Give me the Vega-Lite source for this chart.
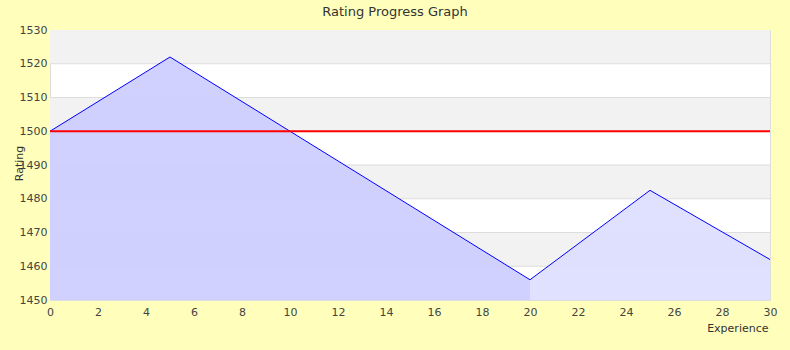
{
  "$schema": "https://vega.github.io/schema/vega-lite/v6.json",
  "width": 720,
  "height": 270,
  "autosize": {"type": "none"},
  "padding": {"left": 50, "top": 30, "right": 20, "bottom": 50},
  "background": "#FFFFBB",
  "title": {"text": "Rating Progress Graph", "fontSize": 13, "font": "DejaVu Sans", "fontWeight": "normal", "color": "#333333", "offset": 5, "dx": -15},
  "config": {
    "font": "DejaVu Sans",
    "view": {"fill": "#FFFFFF", "stroke": "#DDDDDD"},
    "axis": {"labelFont": "DejaVu Sans", "labelFontSize": 11, "labelColor": "#444444", "titleFont": "DejaVu Sans", "titleFontSize": 11, "titleFontWeight": "normal", "titleColor": "#333333", "ticks": false, "domain": false, "grid": false}
  },
  "datasets": {
    "bands": [
      {"lo": 1520, "hi": 1530},
      {"lo": 1500, "hi": 1510},
      {"lo": 1480, "hi": 1490},
      {"lo": 1460, "hi": 1470}
    ],
    "gridlines": [
      {"rating": 1460}, {"rating": 1470}, {"rating": 1480}, {"rating": 1490},
      {"rating": 1500}, {"rating": 1510}, {"rating": 1520}
    ],
    "areas": [
      {"exp": 0, "rating": 1500, "seg": "a"},
      {"exp": 5, "rating": 1522, "seg": "a"},
      {"exp": 20, "rating": 1456, "seg": "a"},
      {"exp": 20, "rating": 1456, "seg": "b"},
      {"exp": 25, "rating": 1482.5, "seg": "b"},
      {"exp": 30, "rating": 1462, "seg": "b"}
    ],
    "points": [
      {"exp": 0, "rating": 1500},
      {"exp": 5, "rating": 1522},
      {"exp": 20, "rating": 1456},
      {"exp": 25, "rating": 1482.5},
      {"exp": 30, "rating": 1462}
    ],
    "ref": [{"rating": 1500}]
  },
  "layer": [
    {
      "data": {"name": "bands"},
      "mark": {"type": "rect", "fill": "#F2F2F2"},
      "encoding": {
        "y": {"field": "lo", "type": "quantitative", "scale": {"domain": [1450, 1530], "zero": false, "nice": false},
          "axis": {"title": "Rating", "format": "d", "values": [1450, 1460, 1470, 1480, 1490, 1500, 1510, 1520, 1530], "tickCount": 12, "labelOverlap": false, "labelFlush": false, "labelPadding": 3, "titleX": -31, "titleY": 133, "titleAngle": 270, "titleAlign": "center", "titleBaseline": "middle"}},
        "y2": {"field": "hi"}
      }
    },
    {
      "data": {"name": "gridlines"},
      "mark": {"type": "rule", "color": "#DDDDDD", "strokeWidth": 1},
      "encoding": {
        "y": {"field": "rating", "type": "quantitative"}
      }
    },
    {
      "data": {"name": "areas"},
      "mark": {"type": "area", "opacity": 0.93},
      "encoding": {
        "x": {"field": "exp", "type": "quantitative", "scale": {"domain": [0, 30], "nice": false},
          "axis": {"title": "Experience", "values": [0, 2, 4, 6, 8, 10, 12, 14, 16, 18, 20, 22, 24, 26, 28, 30], "tickCount": 20, "labelOverlap": false, "labelFlush": false, "labelPadding": 6, "titleAnchor": "end", "titleAlign": "right", "titleX": 718, "titleY": 28, "titleBaseline": "middle"}},
        "y": {"field": "rating", "type": "quantitative"},
        "y2": {"datum": 1450},
        "color": {"field": "seg", "type": "nominal", "scale": {"domain": ["a", "b"], "range": ["#CDCDFF", "#DEDEFF"]}, "legend": null}
      }
    },
    {
      "data": {"name": "points"},
      "mark": {"type": "line", "color": "#0000FF", "strokeWidth": 1},
      "encoding": {
        "x": {"field": "exp", "type": "quantitative"},
        "y": {"field": "rating", "type": "quantitative"}
      }
    },
    {
      "data": {"name": "ref"},
      "mark": {"type": "rule", "color": "#FF0000", "strokeWidth": 2},
      "encoding": {
        "y": {"field": "rating", "type": "quantitative"}
      }
    }
  ]
}
